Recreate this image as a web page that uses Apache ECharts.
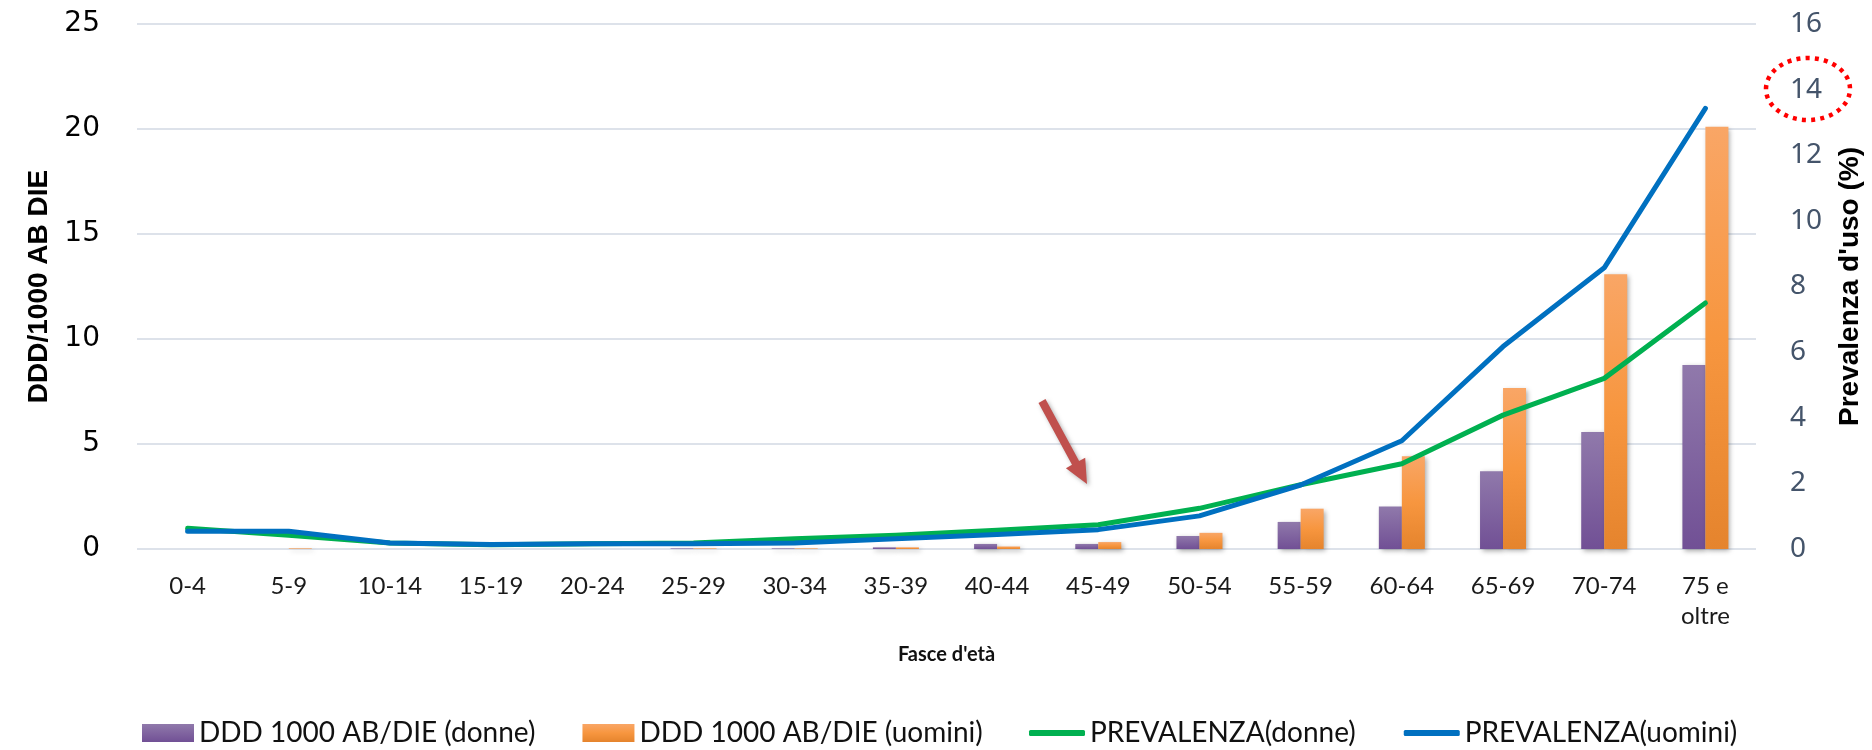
<!DOCTYPE html>
<html>
<head>
<meta charset="utf-8">
<script src="https://cdn.jsdelivr.net/npm/echarts@6/dist/echarts.min.js"></script>
<style>
  html, body { margin: 0; padding: 0; background: #ffffff; }
  #chart { width: 1872px; height: 750px; }
</style>
</head>
<body>
<div id="chart"></div>
<script>
// Age bands on the category axis
const categories = ['0-4', '5-9', '10-14', '15-19', '20-24', '25-29', '30-34', '35-39',
  '40-44', '45-49', '50-54', '55-59', '60-64', '65-69', '70-74', '75 e oltre'];

// DDD per 1000 inhabitants per day (left axis)
const dddDonne  = [0, 0, 0, 0, 0, 0.03, 0.03, 0.08, 0.24, 0.24, 0.62, 1.29, 2.02, 3.70, 5.57, 8.76];
const dddUomini = [0, 0.03, 0, 0, 0, 0.03, 0.03, 0.08, 0.12, 0.33, 0.77, 1.92, 4.42, 7.67, 13.08, 20.11];

// Prevalence of use, % (right axis)
const prevDonne  = [0.63, 0.42, 0.18, 0.13, 0.16, 0.18, 0.31, 0.42, 0.57, 0.74, 1.24, 1.96, 2.60, 4.08, 5.20, 7.50];
const prevUomini = [0.54, 0.54, 0.18, 0.14, 0.16, 0.16, 0.18, 0.31, 0.44, 0.59, 1.01, 1.95, 3.30, 6.17, 8.57, 13.43];

const seriesNames = ['DDD 1000 AB/DIE (donne)', 'DDD 1000 AB/DIE (uomini)', 'PREVALENZA(donne)', 'PREVALENZA(uomini)'];
const axisNames = { x: "Fasce d'età", left: 'DDD/1000 AB DIE', right: "Prevalenza d'uso (%)" };

const purpleFill = new echarts.graphic.LinearGradient(0, 0, 0, 1, [
  { offset: 0, color: '#9079ab' }, { offset: 1, color: '#715095' }
]);
const orangeFill = new echarts.graphic.LinearGradient(0, 0, 0, 1, [
  { offset: 0, color: '#f9a666' }, { offset: 0.5, color: '#f7963f' }, { offset: 1, color: '#e5842d' }
]);
const barShadow = { shadowColor: 'rgba(0,0,0,0.35)', shadowBlur: 5, shadowOffsetX: 2, shadowOffsetY: 2 };

const chart = echarts.init(document.getElementById('chart'), null, { renderer: 'canvas' });

const legendText = { fontFamily: 'Lato', fontSize: 28, color: '#111111', lineHeight: 30 };

chart.setOption({
  backgroundColor: '#ffffff',
  animation: false,
  grid: { left: 137, right: 115, top: 24, bottom: 201, containLabel: false },
  legend: [
    {
      data: [seriesNames[0], seriesNames[1]],
      left: 137, top: 713,
      itemWidth: 52, itemHeight: 18, itemGap: 47,
      icon: 'rect',
      textStyle: legendText
    },
    {
      data: [seriesNames[2], seriesNames[3]],
      left: 1024, top: 713,
      itemWidth: 56, itemHeight: 6, itemGap: 48,
      icon: 'roundRect',
      textStyle: legendText
    }
  ],
  xAxis: {
    type: 'category',
    data: categories,
    boundaryGap: true,
    axisLine: { show: false },
    axisTick: { show: false },
    axisLabel: {
      interval: 0,
      margin: 22,
      fontFamily: 'Lato', fontSize: 24, color: '#1a1a1a', lineHeight: 30,
      formatter: v => v.replace(' oltre', '\noltre')
    },
    name: axisNames.x,
    nameLocation: 'middle',
    nameGap: 96,
    nameTextStyle: { fontFamily: 'Lato', fontWeight: 'bold', fontSize: 20, color: '#111111' }
  },
  yAxis: [
    {
      type: 'value',
      min: 0, max: 25, interval: 5,
      position: 'left',
      axisLine: { show: false },
      axisTick: { show: false },
      axisLabel: { margin: 37, fontFamily: 'DejaVu Sans', fontSize: 28, color: '#000000' },
      splitLine: { show: true, lineStyle: { color: '#dde2ea', width: 2 } },
      name: axisNames.left,
      nameLocation: 'middle',
      nameRotate: 90,
      nameGap: 84,
      nameTextStyle: { fontFamily: 'Liberation Sans', fontWeight: 'bold', fontSize: 28, color: '#000000' }
    },
    {
      type: 'value',
      min: 0, max: 16, interval: 2,
      position: 'right',
      axisLine: { show: false },
      axisTick: { show: false },
      axisLabel: { margin: 34, fontFamily: 'Noto Sans', fontSize: 28, color: '#44546a' },
      splitLine: { show: false },
      name: axisNames.right,
      nameLocation: 'middle',
      nameRotate: 90,
      nameGap: 80,
      nameTextStyle: { fontFamily: 'Liberation Sans', fontWeight: 'bold', fontSize: 28, color: '#000000' }
    }
  ],
  series: [
    {
      name: seriesNames[0], type: 'bar', yAxisIndex: 0,
      data: dddDonne, barWidth: 23, barGap: '0%',
      itemStyle: Object.assign({ color: purpleFill }, barShadow)
    },
    {
      name: seriesNames[1], type: 'bar', yAxisIndex: 0,
      data: dddUomini, barWidth: 23, barGap: '0%',
      itemStyle: Object.assign({ color: orangeFill }, barShadow)
    },
    {
      name: seriesNames[2], type: 'line', yAxisIndex: 1,
      data: prevDonne, symbol: 'none',
      itemStyle: { color: '#00b050' },
      lineStyle: { color: '#00b050', width: 5, cap: 'round', join: 'round' }
    },
    {
      name: seriesNames[3], type: 'line', yAxisIndex: 1,
      data: prevUomini, symbol: 'none',
      itemStyle: { color: '#0070c0' },
      lineStyle: { color: '#0070c0', width: 5, cap: 'round', join: 'round' }
    }
  ],
  graphic: [
    {
      // dotted highlight ring around the "14" tick of the right axis
      type: 'ellipse',
      shape: { cx: 1808, cy: 89, rx: 42, ry: 31 },
      style: { fill: 'none', stroke: '#ff0000', lineWidth: 4.5, lineDash: [4, 5.2] },
      z: 100
    },
    {
      // pointer arrow toward the 45-49 band
      type: 'polygon',
      shape: {
        points: [
          [1038.5, 402.9], [1072.0, 464.8], [1065.9, 468.2], [1087, 484],
          [1085.2, 457.7], [1079.1, 461.0], [1045.5, 399.1]
        ]
      },
      style: {
        fill: '#c0504d',
        shadowColor: 'rgba(0,0,0,0.3)', shadowBlur: 4, shadowOffsetX: 2, shadowOffsetY: 2
      },
      z: 100
    }
  ]
});
</script>
</body>
</html>
